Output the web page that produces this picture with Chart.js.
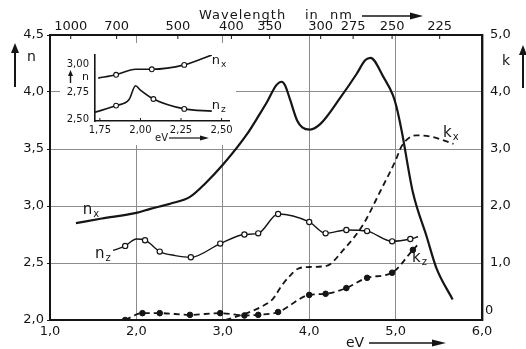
<!DOCTYPE html>
<html>
<head>
<meta charset="utf-8">
<script src="https://cdn.jsdelivr.net/npm/chart.js@4.4.0/dist/chart.umd.min.js"></script>
<style>
  html, body { margin: 0; padding: 0; background: #fff; }
  #wrap { position: relative; width: 526px; height: 349px; }
  #mainChart { position: absolute; left: 0; top: 0; }
  #insetChart { position: absolute; left: 60px; top: 43px; background: #fff; }
</style>
</head>
<body>
<div id="wrap">
  <canvas id="mainChart" width="526" height="349"></canvas>
  <canvas id="insetChart" width="176" height="102"></canvas>
</div>
<script>
// ---- main plot: n (left axis) and k (right axis) against photon energy in eV ----
const nxEnergy = [1.30, 1.60, 2.00, 2.16, 2.39, 2.62, 2.80, 3.01, 3.28, 3.43, 3.51, 3.62, 3.68, 3.72, 3.78, 3.86, 3.92, 4.01, 4.13, 4.36, 4.55, 4.65, 4.71, 4.86, 4.97, 5.01, 5.07, 5.20, 5.36, 5.47, 5.66];
const nxValue  = [2.85, 2.89, 2.94, 2.975, 3.02, 3.08, 3.20, 3.37, 3.63, 3.81, 3.91, 4.06, 4.09, 4.06, 3.93, 3.75, 3.69, 3.67, 3.72, 3.95, 4.16, 4.28, 4.30, 4.13, 3.97, 3.87, 3.66, 3.12, 2.73, 2.46, 2.18];

// measured points (open circles) and extra points of the drawn n_z curve
const nzEnergy = [1.87, 2.10, 2.27, 2.63, 2.97, 3.25, 3.41, 3.64, 4.00, 4.19, 4.43, 4.67, 4.96, 5.17];
const nzValue  = [2.65, 2.70, 2.60, 2.55, 2.67, 2.75, 2.76, 2.93, 2.86, 2.76, 2.79, 2.78, 2.69, 2.71];
const nzCurveEnergy = [1.73, 2.00, 2.45, 5.26];
const nzCurveValue  = [2.61, 2.71, 2.565, 2.73];

const kxEnergy = [3.03, 3.20, 3.43, 3.58, 3.68, 3.78, 3.87, 4.00, 4.20, 4.39, 4.63, 4.82, 5.00, 5.07, 5.17, 5.24, 5.43, 5.67];
const kxValue  = [0.00, 0.08, 0.22, 0.37, 0.60, 0.78, 0.90, 0.93, 0.95, 1.22, 1.69, 2.25, 2.80, 3.05, 3.21, 3.24, 3.21, 3.09];

// measured points (filled dots) and extra points of the k_z curve
const kzEnergy = [1.87, 2.07, 2.27, 2.62, 2.97, 3.25, 3.41, 3.64, 4.00, 4.19, 4.43, 4.67, 4.96, 5.20];
const kzValue  = [0.00, 0.12, 0.12, 0.09, 0.12, 0.08, 0.09, 0.14, 0.44, 0.46, 0.56, 0.74, 0.83, 1.23];
const kzCurveEnergy = [5.25];
const kzCurveValue  = [1.31];

const wavelengthTicks = [1000, 700, 500, 400, 350, 300, 275, 250, 225];

// ---- inset: n near 2 eV ----
const insetNxEnergy = [1.85, 2.07, 2.27];
const insetNxValue  = [2.91, 2.96, 3.00];
const insetNxCurveEnergy = [1.74, 1.97, 2.44];
const insetNxCurveValue  = [2.88, 2.96, 3.09];
const insetNzEnergy = [1.85, 2.08, 2.27];
const insetNzValue  = [2.63, 2.69, 2.60];
const insetNzCurveEnergy = [1.72, 1.93, 1.97, 2.00, 2.44];
const insetNzCurveValue  = [2.57, 2.685, 2.81, 2.77, 2.58];
const insetEnergyTicks = [1.75, 2.00, 2.25, 2.50];
const insetNTicks = [2.50, 2.75, 3.00];

const HC = 1239.84;  // eV*nm
const INK = '#151515';
const GRID = '#8c8c8c';
const FONT = 'DejaVu Sans';

Chart.defaults.font.family = FONT;
Chart.defaults.color = INK;

const fmt = (v, d) => v.toFixed(d).replace('.', ',');
const pts = (xs, ys) => xs.map((x, i) => ({ x: x, y: ys[i] }));
const merged = (xa, ya, xb, yb) => pts(xa, ya).concat(pts(xb, yb)).sort((a, b) => a.x - b.x);

function arrow(ctx, x1, y1, x2, y2, head, half, lw) {
    const a = Math.atan2(y2 - y1, x2 - x1);
    ctx.lineWidth = lw;
    ctx.beginPath();
    ctx.moveTo(x1, y1);
    ctx.lineTo(x2 - head * Math.cos(a), y2 - head * Math.sin(a));
    ctx.stroke();
    ctx.beginPath();
    ctx.moveTo(x2, y2);
    ctx.lineTo(x2 - head * Math.cos(a) + half * Math.sin(a), y2 - head * Math.sin(a) - half * Math.cos(a));
    ctx.lineTo(x2 - head * Math.cos(a) - half * Math.sin(a), y2 - head * Math.sin(a) + half * Math.cos(a));
    ctx.closePath();
    ctx.fill();
}

function subLabel(ctx, main, sub, x, y, size) {
    ctx.textAlign = 'left';
    ctx.textBaseline = 'middle';
    ctx.font = size + 'px "' + FONT + '"';
    ctx.fillText(main, x, y);
    const w = ctx.measureText(main).width;
    ctx.font = Math.round(size * 0.68) + 'px "' + FONT + '"';
    ctx.fillText(sub, x + w + 1, y + size * 0.3);
}

const mainDecor = {
    id: 'mainDecor',
    afterDraw(chart) {
        const { ctx, chartArea, scales } = chart;
        const x = scales.x, y = scales.y, k = scales.k, x2 = scales.x2;
        ctx.save();
        ctx.fillStyle = INK;
        ctx.strokeStyle = INK;

        // small inward marks on the wavelength axis
        ctx.lineWidth = 1;
        x2.ticks.forEach(t => {
            const px = x2.getPixelForValue(t.value);
            ctx.beginPath();
            ctx.moveTo(px, chartArea.top);
            ctx.lineTo(px, chartArea.top + 4);
            ctx.stroke();
        });

        ctx.textAlign = 'left';
        ctx.textBaseline = 'middle';
        ctx.font = '13px "' + FONT + '"';
        ctx.letterSpacing = '1px';
        ctx.fillText('Wavelength', 199, 16);
        ctx.fillText('in', 305, 16);
        ctx.fillText('nm', 330, 16);
        ctx.letterSpacing = '0px';
        arrow(ctx, 362, 16, 423, 16, 13, 3.5, 1.5);

        ctx.font = '14px "' + FONT + '"';
        ctx.fillText('eV', 346, 343);
        arrow(ctx, 369, 343, 446, 343, 14, 3.5, 1.5);

        ctx.fillText('n', 27, 57);
        arrow(ctx, 15, 87, 15, 43, 10, 4, 2);
        ctx.fillText('k', 502, 61);
        arrow(ctx, 523, 88, 523, 45, 10, 4, 2);

        // zero of the k axis, lifted clear of the "6,0" label
        ctx.font = '13px "' + FONT + '"';
        ctx.fillText('0', k.left + 3, k.getPixelForValue(0) - 9);

        // curve names
        subLabel(ctx, 'n', 'x', x.getPixelForValue(1.38), y.getPixelForValue(2.965), 15);
        subLabel(ctx, 'n', 'z', x.getPixelForValue(1.52), y.getPixelForValue(2.58), 15);
        subLabel(ctx, 'k', 'x', x.getPixelForValue(5.55), k.getPixelForValue(3.28), 15);
        subLabel(ctx, 'k', 'z', x.getPixelForValue(5.19), k.getPixelForValue(1.09), 15);
        ctx.restore();
    }
};

const edgeAware = (lo, hi) => c => (c.tick && (Math.abs(c.tick.value - lo) < 1e-6 || Math.abs(c.tick.value - hi) < 1e-6)) ? 'rgba(0,0,0,0)' : GRID;

new Chart(document.getElementById('mainChart'), {
    type: 'line',
    data: {
        datasets: [
            {
                data: pts(nzEnergy, nzValue), yAxisID: 'y', showLine: false, order: 0,
                pointRadius: 2.6, pointBackgroundColor: '#fff', pointBorderColor: INK, pointBorderWidth: 1.2
            },
            {
                data: pts(kzEnergy, kzValue), yAxisID: 'k', showLine: false, order: 0,
                pointRadius: 2.8, pointBackgroundColor: INK, pointBorderColor: INK, pointBorderWidth: 1
            },
            {
                data: pts(nxEnergy, nxValue), yAxisID: 'y', order: 1,
                borderColor: INK, borderWidth: 2.2, pointRadius: 0, cubicInterpolationMode: 'monotone'
            },
            {
                data: merged(nzEnergy, nzValue, nzCurveEnergy, nzCurveValue), yAxisID: 'y', order: 1,
                borderColor: INK, borderWidth: 1.4, pointRadius: 0, cubicInterpolationMode: 'monotone'
            },
            {
                data: pts(kxEnergy, kxValue), yAxisID: 'k', order: 1,
                borderColor: INK, borderWidth: 1.8, borderDash: [6, 4], pointRadius: 0, cubicInterpolationMode: 'monotone'
            },
            {
                data: merged(kzEnergy, kzValue, kzCurveEnergy, kzCurveValue), yAxisID: 'k', order: 1,
                borderColor: INK, borderWidth: 1.8, borderDash: [6, 4], pointRadius: 0, cubicInterpolationMode: 'monotone'
            }
        ]
    },
    options: {
        responsive: false,
        animation: false,
        layout: { padding: 0 },
        plugins: { legend: { display: false }, tooltip: { enabled: false } },
        scales: {
            x: {
                type: 'linear', position: 'bottom', min: 1, max: 6,
                ticks: { stepSize: 1, padding: 4, maxRotation: 0, font: { size: 13 }, callback: v => fmt(v, 1) },
                grid: { color: edgeAware(1, 6), lineWidth: 1, drawTicks: false, z: -1 },
                border: { color: INK, width: 2, z: 1 },
                afterFit: s => { s.height = 29; }
            },
            x2: {
                type: 'linear', position: 'top', min: 1, max: 6,
                afterBuildTicks: s => { s.ticks = wavelengthTicks.map(w => ({ value: HC / w })); },
                ticks: { autoSkip: false, maxRotation: 0, padding: 1, font: { size: 13 }, callback: (v, i) => String(wavelengthTicks[i]) },
                grid: { drawOnChartArea: false, drawTicks: false },
                border: { color: INK, width: 2, z: 1 },
                afterFit: s => { s.height = 35; }
            },
            y: {
                position: 'left', min: 2, max: 4.5,
                ticks: { stepSize: 0.5, padding: 3, font: { size: 13 }, callback: v => fmt(v, 1) },
                grid: { color: edgeAware(2, 4.5), tickColor: INK, tickLength: 3, lineWidth: 1, z: -1 },
                border: { color: INK, width: 2, z: 1 },
                afterFit: s => { s.width = 50; }
            },
            k: {
                position: 'right', min: 0, max: 5,
                ticks: { stepSize: 1, padding: 8, font: { size: 13 }, callback: v => v === 0 ? '' : fmt(v, 1) },
                grid: { drawOnChartArea: false, drawTicks: false },
                border: { color: INK, width: 2.4, z: 1 },
                afterFit: s => { s.width = 44; }
            }
        }
    },
    plugins: [mainDecor]
});

// ---- inset ----
const insetDecor = {
    id: 'insetDecor',
    afterDraw(chart) {
        const { ctx, chartArea, scales } = chart;
        const x = scales.x, y = scales.y;
        ctx.save();
        ctx.fillStyle = INK;
        ctx.strokeStyle = INK;
        ctx.lineWidth = 1;
        insetEnergyTicks.forEach(v => {
            const px = x.getPixelForValue(v);
            ctx.beginPath();
            ctx.moveTo(px, chartArea.bottom);
            ctx.lineTo(px, chartArea.bottom - 3);
            ctx.stroke();
        });
        ctx.textAlign = 'left';
        ctx.textBaseline = 'middle';
        ctx.font = '11px "' + FONT + '"';
        ctx.fillText('n', 22, 34);
        arrow(ctx, 10.5, 40, 10.5, 27, 6, 2.5, 1.4);
        ctx.font = '10px "' + FONT + '"';
        ctx.fillText('eV', 95, 95);
        arrow(ctx, 109, 95, 149, 95, 9, 2.5, 1.2);
        subLabel(ctx, 'n', 'x', x.getPixelForValue(2.44), y.getPixelForValue(3.036), 13);
        subLabel(ctx, 'n', 'z', x.getPixelForValue(2.44), y.getPixelForValue(2.633), 13);
        ctx.restore();
    }
};

new Chart(document.getElementById('insetChart'), {
    type: 'line',
    data: {
        datasets: [
            {
                data: pts(insetNxEnergy, insetNxValue), showLine: false, order: 0,
                pointRadius: 2.4, pointBackgroundColor: '#fff', pointBorderColor: INK, pointBorderWidth: 1.1
            },
            {
                data: pts(insetNzEnergy, insetNzValue), showLine: false, order: 0,
                pointRadius: 2.4, pointBackgroundColor: '#fff', pointBorderColor: INK, pointBorderWidth: 1.1
            },
            {
                data: merged(insetNxEnergy, insetNxValue, insetNxCurveEnergy, insetNxCurveValue), order: 1,
                borderColor: INK, borderWidth: 1.6, pointRadius: 0, cubicInterpolationMode: 'monotone'
            },
            {
                data: merged(insetNzEnergy, insetNzValue, insetNzCurveEnergy, insetNzCurveValue), order: 1,
                borderColor: INK, borderWidth: 1.6, pointRadius: 0, cubicInterpolationMode: 'monotone'
            }
        ]
    },
    options: {
        responsive: false,
        animation: false,
        layout: { padding: { top: 11, right: 3, left: 0, bottom: 0 } },
        plugins: { legend: { display: false }, tooltip: { enabled: false } },
        scales: {
            x: {
                type: 'linear', min: 1.72, max: 2.55,
                afterBuildTicks: s => { s.ticks = insetEnergyTicks.map(v => ({ value: v })); },
                ticks: { autoSkip: false, maxRotation: 0, padding: 3, font: { size: 10 }, callback: v => fmt(v, 2) },
                grid: { drawOnChartArea: false, drawTicks: false },
                border: { color: INK, width: 1.6 },
                afterFit: s => { s.height = 24; }
            },
            y: {
                min: 2.49, max: 3.09,
                afterBuildTicks: s => { s.ticks = insetNTicks.map(v => ({ value: v })); },
                ticks: { autoSkip: false, padding: 6, font: { size: 10 }, callback: v => fmt(v, 2) },
                grid: { drawOnChartArea: false, drawTicks: false },
                border: { color: INK, width: 1.6 },
                afterFit: s => { s.width = 35; }
            }
        }
    },
    plugins: [insetDecor]
});
</script>
</body>
</html>
